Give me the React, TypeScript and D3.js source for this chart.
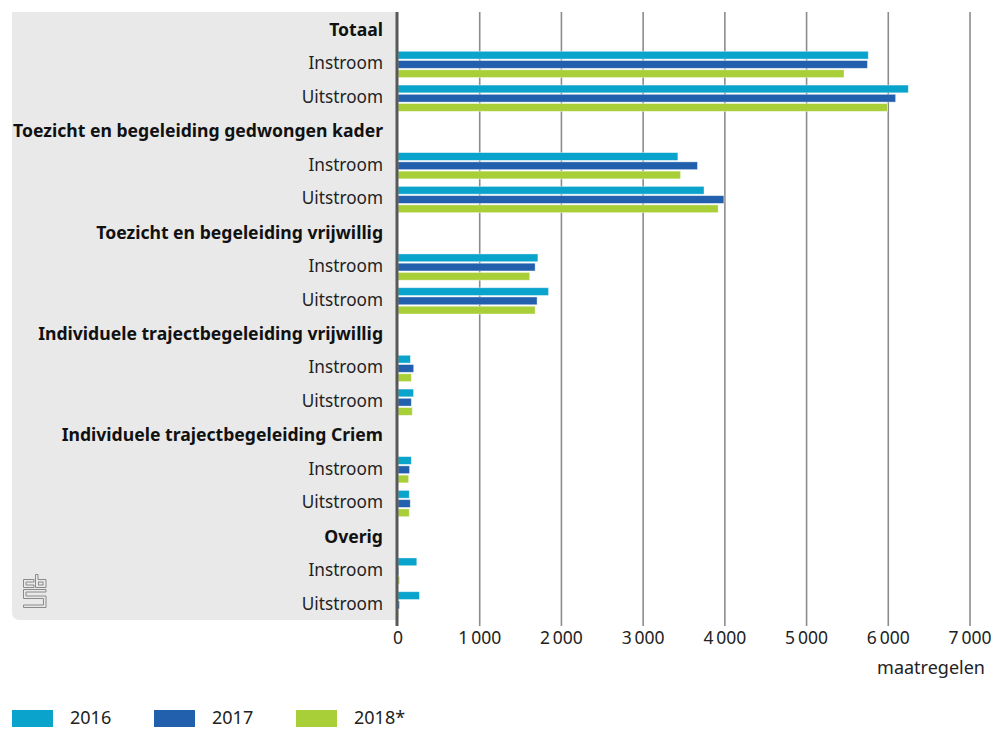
import React from "react";
import * as d3 from "d3";

const categories = [
  "Totaal",
  "Toezicht en begeleiding gedwongen kader",
  "Toezicht en begeleiding vrijwillig",
  "Individuele trajectbegeleiding vrijwillig",
  "Individuele trajectbegeleiding Criem",
  "Overig",
];
const flows = ["Instroom", "Uitstroom"];
const years = ["2016", "2017", "2018*"];
const colors = ["#0aa3cb", "#225fac", "#a8cf38"];

// values per category: [Instroom, Uitstroom], each [2016, 2017, 2018*]
const values2016 = [5755, 6245, 3425, 3745, 1712, 1842, 152, 190, 163, 138, 230, 262];
const values2017 = [5745, 6090, 3665, 3988, 1678, 1702, 192, 163, 142, 150, 8, 18];
const values2018 = [5458, 5990, 3458, 3918, 1612, 1678, 163, 175, 130, 138, 20, 4];
const xTicks = [0, 1000, 2000, 3000, 4000, 5000, 6000, 7000];

const W = 994;
const H = 729;
const panelTop = 12;
const panelBottom = 620;
const x0 = 398;
const x1 = 970;

type Row = { key: string; label: string; header: boolean; idx: number };

const rows: Row[] = [];
categories.forEach((c, ci) => {
  rows.push({ key: `h${ci}`, label: c, header: true, idx: -1 });
  flows.forEach((f, fi) => {
    rows.push({ key: `r${ci}-${fi}`, label: f, header: false, idx: ci * 2 + fi });
  });
});

const series = [values2016, values2017, values2018];

export default function App() {
  const x = d3.scaleLinear().domain([0, 7000]).range([x0, x1]);
  const y = d3
    .scaleBand<string>()
    .domain(rows.map((r) => r.key))
    .range([panelTop, panelBottom]);
  const inner = d3
    .scaleBand<string>()
    .domain(years)
    .range([5.5, y.bandwidth() - 2])
    .paddingInner(0.16);
  const fmt = (v: number) => d3.format(",")(v).replace(",", "\u2009");
  const font = "'Noto Sans', sans-serif";

  return (
    <svg
      width={W}
      height={H}
      style={{ position: "absolute", left: 0, top: 0, background: "#fff" }}
      fontFamily={font}
    >
      <path
        d={`M12,${panelTop} H${x0} V${panelBottom} H20 Q12,${panelBottom} 12,${panelBottom - 8} Z`}
        fill="#e9e9e9"
      />
      {xTicks.slice(1).map((t) => (
        <line
          key={t}
          x1={x(t)}
          x2={x(t)}
          y1={panelTop}
          y2={panelBottom + 6}
          stroke="#8c8c8c"
          strokeWidth={1.6}
        />
      ))}
      {rows.map((r) => {
        const yy = y(r.key)!;
        return (
          <g key={r.key}>
            <text
              x={383}
              y={yy + y.bandwidth() / 2}
              textAnchor="end"
              dominantBaseline="central"
              fontSize={r.header ? 17.6 : 17.2}
              fontWeight={r.header ? 700 : 400}
              fill={r.header ? "#111" : "#222"}
            >
              {r.label}
            </text>
            {!r.header &&
              years.map((yr, yi) => (
                <rect
                  key={yr}
                  x={x(0)}
                  y={yy + inner(yr)!}
                  width={Math.max(0, x(series[yi][r.idx]) - x(0))}
                  height={inner.bandwidth()}
                  fill={colors[yi]}
                  stroke="#ffffff"
                  strokeOpacity={0.5}
                  strokeWidth={0.8}
                />
              ))}
          </g>
        );
      })}
      <line
        x1={x0 - 1}
        x2={x0 - 1}
        y1={panelTop}
        y2={panelBottom + 6}
        stroke="#595959"
        strokeWidth={3}
      />
      {xTicks.map((t) => (
        <text
          key={t}
          x={x(t)}
          y={637}
          textAnchor="middle"
          dominantBaseline="central"
          fontSize={17.5}
          fill="#222"
        >
          {fmt(t)}
        </text>
      ))}
      <text x={985} y={667} textAnchor="end" dominantBaseline="central" fontSize={18} fill="#222">
        maatregelen
      </text>
      <g fill="none" stroke="#8a8a8a" strokeWidth={1}>
        <path d="M34,579.5 H23.5 V587.5 H34 V585 H26 V582 H34 Z" />
        <path d="M35.5,574.5 H38 V579.5 H46 V587.5 H35.5 Z" />
        <rect x={38.5} y={582} width={4.5} height={3} />
        <path d="M23.5,589.5 H46 V592 H26 V596 H46 V607.5 H23.5 V605 H43.5 V598.5 H23.5 Z" />
      </g>
      {years.map((yr, i) => {
        const lx = 12 + i * 142;
        return (
          <g key={yr}>
            <rect x={lx} y={710} width={41} height={17} fill={colors[i]} />
            <text x={lx + 58} y={717} dominantBaseline="central" fontSize={18} fill="#222">
              {yr}
            </text>
          </g>
        );
      })}
    </svg>
  );
}
